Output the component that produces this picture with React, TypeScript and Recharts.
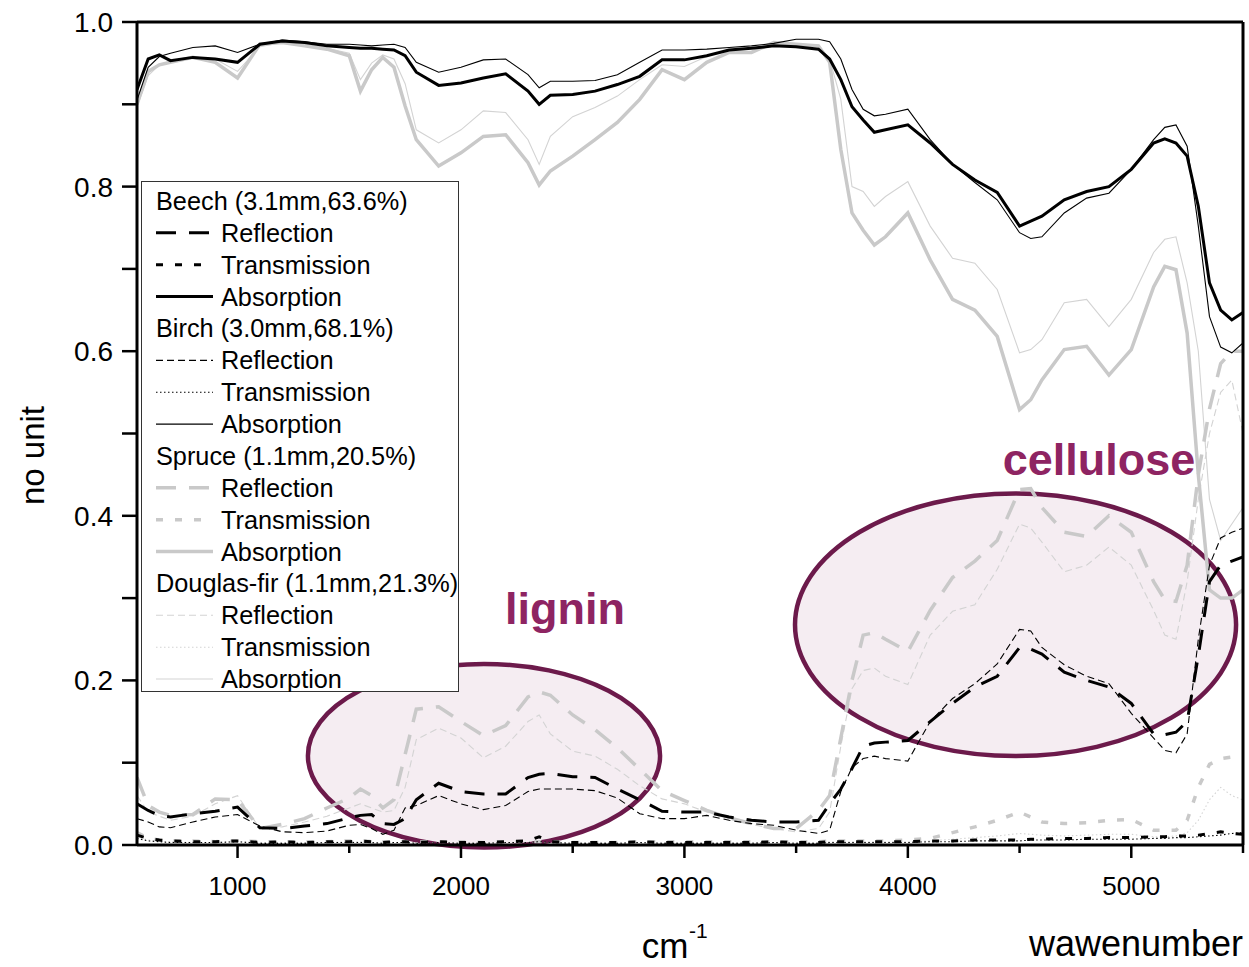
import React from 'react';
import {
  LineChart,
  Line,
  XAxis,
  YAxis,
  ReferenceArea,
  ReferenceDot,
  ReferenceLine,
  Legend,
} from 'recharts';

const FONT = "'Liberation Sans', Arial, Helvetica, sans-serif";

// wavenumber grid (cm^-1)
const wavenumbers = [
  550, 600, 650, 700, 800, 900, 1000, 1100,
  1200, 1300, 1400, 1500, 1550, 1600, 1650, 1700,
  1750, 1800, 1900, 2000, 2100, 2200, 2300, 2350,
  2400, 2500, 2600, 2700, 2800, 2900, 3000, 3100,
  3200, 3300, 3400, 3500, 3600, 3650, 3700, 3750,
  3800, 3850, 3900, 4000, 4100, 4200, 4300, 4400,
  4500, 4550, 4600, 4700, 4800, 4900, 5000, 5100,
  5150, 5200, 5250, 5300, 5350, 5400, 5450, 5500,
];

const beechAbsorption = [
  0.918, 0.955, 0.96, 0.953, 0.957, 0.955, 0.951, 0.973,
  0.977, 0.975, 0.971, 0.969, 0.968, 0.968, 0.967, 0.966,
  0.959, 0.939, 0.923, 0.926, 0.932, 0.937, 0.916, 0.9,
  0.911, 0.912, 0.916, 0.924, 0.934, 0.954, 0.954, 0.959,
  0.966, 0.968, 0.971, 0.97, 0.967, 0.955, 0.93, 0.897,
  0.881, 0.866, 0.869, 0.875, 0.853, 0.827, 0.808, 0.793,
  0.752, 0.758, 0.764, 0.784, 0.794, 0.8, 0.821, 0.853,
  0.858, 0.853, 0.837, 0.776, 0.683, 0.65, 0.638, 0.647,
];
const birchAbsorption = [
  0.905, 0.945, 0.958, 0.962, 0.969, 0.971, 0.963, 0.973,
  0.978, 0.976, 0.973, 0.973, 0.972, 0.971, 0.972, 0.973,
  0.969, 0.951, 0.939, 0.945, 0.954, 0.955, 0.936, 0.92,
  0.928, 0.928, 0.929, 0.936, 0.951, 0.966, 0.966, 0.967,
  0.969, 0.971, 0.974, 0.979, 0.979, 0.976, 0.955, 0.918,
  0.894, 0.886, 0.888, 0.894, 0.857, 0.827, 0.805, 0.784,
  0.744, 0.737, 0.739, 0.768, 0.786, 0.792, 0.821, 0.857,
  0.872, 0.875, 0.849, 0.752, 0.642, 0.605, 0.598, 0.61,
];
const spruceAbsorption = [
  0.9, 0.94, 0.948, 0.951, 0.957, 0.951, 0.932, 0.973,
  0.975, 0.971, 0.967, 0.959, 0.916, 0.942, 0.957, 0.945,
  0.898, 0.857, 0.825, 0.841, 0.861, 0.863, 0.829, 0.802,
  0.819, 0.837, 0.857, 0.878, 0.906, 0.942, 0.93, 0.951,
  0.963, 0.963, 0.975, 0.973, 0.971, 0.951, 0.845, 0.768,
  0.747, 0.729, 0.739, 0.768, 0.711, 0.663, 0.65, 0.618,
  0.529, 0.541, 0.565, 0.602, 0.606, 0.571, 0.602, 0.678,
  0.703, 0.699, 0.622, 0.45, 0.31, 0.3, 0.3, 0.31,
];
const douglasAbsorption = [
  0.897, 0.935, 0.948, 0.952, 0.957, 0.955, 0.94, 0.97,
  0.975, 0.973, 0.968, 0.962, 0.93, 0.95, 0.96, 0.955,
  0.925, 0.869, 0.853, 0.869, 0.892, 0.89, 0.857, 0.827,
  0.861, 0.885, 0.896, 0.91, 0.93, 0.948, 0.946, 0.958,
  0.966, 0.968, 0.973, 0.973, 0.972, 0.955, 0.906, 0.8,
  0.794, 0.776, 0.788, 0.806, 0.752, 0.713, 0.707, 0.675,
  0.598, 0.602, 0.614, 0.659, 0.663, 0.63, 0.663, 0.72,
  0.736, 0.739, 0.683, 0.6, 0.42, 0.37, 0.39, 0.41,
];

const beechReflection = [
  0.05, 0.042, 0.036, 0.034, 0.038, 0.041, 0.046, 0.021,
  0.02, 0.023, 0.026, 0.033, 0.036, 0.037, 0.026, 0.025,
  0.032, 0.055, 0.075, 0.065, 0.062, 0.062, 0.082, 0.086,
  0.087, 0.083, 0.082, 0.068, 0.055, 0.041, 0.04, 0.04,
  0.034, 0.03, 0.028, 0.028, 0.03, 0.05, 0.068, 0.093,
  0.12, 0.124, 0.125, 0.127, 0.15, 0.172, 0.192, 0.205,
  0.24, 0.238, 0.232, 0.21, 0.2, 0.192, 0.172, 0.135,
  0.134, 0.137, 0.15, 0.23, 0.32, 0.34, 0.345, 0.35,
];
const birchReflection = [
  0.032, 0.028, 0.022, 0.021, 0.028, 0.034, 0.037, 0.023,
  0.016, 0.015, 0.017, 0.024, 0.025, 0.02, 0.013, 0.018,
  0.045, 0.048, 0.06, 0.05, 0.043, 0.048, 0.065, 0.068,
  0.068, 0.068, 0.066, 0.057, 0.038, 0.032, 0.032, 0.036,
  0.03, 0.026, 0.024, 0.018, 0.014, 0.018, 0.065, 0.094,
  0.105, 0.108, 0.105, 0.102, 0.15, 0.178, 0.196, 0.22,
  0.262, 0.26, 0.24, 0.219, 0.205, 0.196, 0.16, 0.13,
  0.115, 0.112, 0.135, 0.25, 0.34, 0.373, 0.38, 0.385,
];
const spruceReflection = [
  0.082, 0.048, 0.04, 0.036, 0.037, 0.056, 0.055, 0.02,
  0.025, 0.032, 0.045, 0.057, 0.068, 0.06, 0.045, 0.055,
  0.11, 0.165, 0.168, 0.15, 0.133, 0.145, 0.18, 0.186,
  0.182, 0.158, 0.14, 0.118, 0.092, 0.066, 0.054, 0.042,
  0.033, 0.026, 0.02, 0.02, 0.042, 0.06, 0.13, 0.2,
  0.255, 0.258, 0.25, 0.235, 0.285, 0.325, 0.345, 0.37,
  0.432, 0.433, 0.41, 0.38, 0.375, 0.4, 0.38, 0.32,
  0.298, 0.296, 0.34, 0.45, 0.53, 0.585, 0.6, 0.6,
];
const douglasReflection = [
  0.06, 0.04, 0.035, 0.03, 0.035, 0.05, 0.06, 0.02,
  0.022, 0.028, 0.035, 0.045, 0.05, 0.045, 0.04, 0.042,
  0.07, 0.128, 0.142, 0.13, 0.106, 0.12, 0.15, 0.158,
  0.135, 0.114, 0.108, 0.092, 0.072, 0.056, 0.05, 0.04,
  0.032, 0.025, 0.02, 0.016, 0.02, 0.04, 0.12, 0.19,
  0.212, 0.215, 0.205, 0.195, 0.255, 0.284, 0.292, 0.335,
  0.39, 0.385, 0.368, 0.332, 0.34, 0.362, 0.34, 0.285,
  0.255, 0.25, 0.32, 0.42, 0.5, 0.55, 0.565, 0.5,
];

const beechTransmission = [
  0.012, 0.008, 0.006, 0.005, 0.004, 0.004, 0.005, 0.003,
  0.004, 0.003, 0.004, 0.004, 0.005, 0.004, 0.003, 0.004,
  0.004, 0.003, 0.004, 0.003, 0.003, 0.004, 0.005, 0.01,
  0.004, 0.003, 0.003, 0.003, 0.004, 0.003, 0.003, 0.003,
  0.003, 0.003, 0.004, 0.003, 0.003, 0.004, 0.004, 0.004,
  0.004, 0.004, 0.004, 0.004, 0.005, 0.005, 0.006, 0.006,
  0.006, 0.007, 0.007, 0.008, 0.008, 0.009, 0.009, 0.01,
  0.01, 0.011, 0.011, 0.012, 0.014, 0.016, 0.014, 0.013,
];
const birchTransmission = [
  0.008, 0.005, 0.004, 0.003, 0.003, 0.003, 0.004, 0.002,
  0.002, 0.002, 0.003, 0.003, 0.003, 0.003, 0.002, 0.003,
  0.003, 0.002, 0.003, 0.002, 0.002, 0.003, 0.003, 0.004,
  0.003, 0.002, 0.002, 0.002, 0.003, 0.002, 0.002, 0.002,
  0.002, 0.002, 0.003, 0.002, 0.002, 0.003, 0.003, 0.003,
  0.003, 0.003, 0.003, 0.003, 0.004, 0.004, 0.005, 0.005,
  0.005, 0.006, 0.006, 0.006, 0.007, 0.007, 0.007, 0.008,
  0.008, 0.009, 0.009, 0.01, 0.011, 0.012, 0.014, 0.015,
];
const spruceTransmission = [
  0.015, 0.008, 0.006, 0.005, 0.005, 0.004, 0.005, 0.004,
  0.004, 0.004, 0.004, 0.005, 0.005, 0.004, 0.004, 0.004,
  0.004, 0.004, 0.004, 0.004, 0.003, 0.004, 0.004, 0.004,
  0.004, 0.003, 0.003, 0.003, 0.004, 0.004, 0.004, 0.004,
  0.004, 0.004, 0.004, 0.004, 0.004, 0.005, 0.005, 0.005,
  0.005, 0.005, 0.005, 0.006, 0.008, 0.015, 0.022, 0.03,
  0.04, 0.034, 0.028, 0.026, 0.027, 0.03, 0.031, 0.018,
  0.018, 0.018, 0.03, 0.07, 0.098, 0.105, 0.107, 0.107,
];
const douglasTransmission = [
  0.01, 0.006, 0.004, 0.004, 0.003, 0.003, 0.004, 0.003,
  0.003, 0.003, 0.003, 0.004, 0.004, 0.003, 0.003, 0.003,
  0.003, 0.003, 0.003, 0.003, 0.003, 0.003, 0.003, 0.003,
  0.003, 0.003, 0.003, 0.003, 0.003, 0.003, 0.003, 0.003,
  0.003, 0.003, 0.003, 0.003, 0.003, 0.004, 0.004, 0.004,
  0.004, 0.004, 0.004, 0.004, 0.005, 0.007, 0.009, 0.011,
  0.014, 0.013, 0.012, 0.011, 0.012, 0.013, 0.013, 0.01,
  0.01, 0.011, 0.015, 0.03, 0.055, 0.07, 0.06, 0.055,
];

const xTicks = [1000, 1500, 2000, 2500, 3000, 3500, 4000, 4500, 5000, 5500];
const yTicks = [0, 0.1, 0.2, 0.3, 0.4, 0.5, 0.6, 0.7, 0.8, 0.9, 1.0];

const woodNames = [
  'Beech (3.1mm,63.6%)',
  'Birch (3.0mm,68.1%)',
  'Spruce (1.1mm,20.5%)',
  'Douglas-fir (1.1mm,21.3%)',
];
const quantityNames = ['Reflection', 'Transmission', 'Absorption'];

const annotationRegions = [
  { name: 'lignin', x1: 1315, x2: 2891, y1: -0.003, y2: 0.22, labelX: 2466, labelY: 0.268 },
  { name: 'cellulose', x1: 3495, x2: 5469, y1: 0.108, y2: 0.427, labelX: 4856, labelY: 0.45 },
];

const data = wavenumbers.map((w, i) => ({
  w,
  bR: beechReflection[i],
  bT: beechTransmission[i],
  bA: beechAbsorption[i],
  hR: birchReflection[i],
  hT: birchTransmission[i],
  hA: birchAbsorption[i],
  sR: spruceReflection[i],
  sT: spruceTransmission[i],
  sA: spruceAbsorption[i],
  dR: douglasReflection[i],
  dT: douglasTransmission[i],
  dA: douglasAbsorption[i],
}));

// styles per wood
const woodStyles = [
  { prefix: 'b', color: '#000000', width: 3, dashR: '20 13', dashT: '7 12' },
  { prefix: 'h', color: '#000000', width: 1.1, dashR: '7 4', dashT: '1.5 2.5' },
  { prefix: 's', color: '#c9c9c9', width: 3.5, dashR: '20 13', dashT: '7 12' },
  { prefix: 'd', color: '#d3d3d3', width: 1.1, dashR: '7 4', dashT: '1.5 2.5' },
];

const PURPLE_STROKE = '#6c1a4b';
const PURPLE_TEXT = '#8e2462';

const EllipseShape = (props: any) => {
  const { x, y, width, height } = props;
  if ([x, y, width, height].some((v) => typeof v !== 'number' || isNaN(v))) return null;
  return (
    <ellipse
      cx={x + width / 2}
      cy={y + height / 2}
      rx={Math.abs(width) / 2}
      ry={Math.abs(height) / 2}
      fill="#7a1f55"
      fillOpacity={0.08}
      stroke={PURPLE_STROKE}
      strokeWidth={4.5}
    />
  );
};

const XTick = (props: any) => {
  const { x, y, payload } = props;
  const major = payload.value % 1000 === 0;
  return (
    <g>
      <line x1={x} x2={x} y1={y} y2={y + (major ? 13 : 8)} stroke="#000" strokeWidth={2.5} />
      {major && (
        <text x={x} y={y + 50} textAnchor="middle" fontSize={26} fontFamily={FONT} fill="#000">
          {payload.value}
        </text>
      )}
    </g>
  );
};

const YTick = (props: any) => {
  const { x, y, payload } = props;
  const major = Math.round(payload.value * 10) % 2 === 0;
  return (
    <g>
      <line x1={x - 15} x2={x} y1={y} y2={y} stroke="#000" strokeWidth={2.5} />
      {major && (
        <text x={x - 24} y={y + 10} textAnchor="end" fontSize={28} fontFamily={FONT} fill="#000">
          {payload.value.toFixed(1)}
        </text>
      )}
    </g>
  );
};

const XTitle = (props: any) => {
  const vb = props.viewBox || { x: 137, y: 845, width: 1106, height: 122 };
  const cmX = vb.x + vb.width * 0.4775;
  return (
    <g fontFamily={FONT} fill="#000">
      <text x={cmX} y={vb.y + 113} textAnchor="middle" fontSize={35}>
        cm
      </text>
      <text x={cmX + 24} y={vb.y + 93} textAnchor="start" fontSize={21}>
        -1
      </text>
      <text x={vb.x + vb.width} y={vb.y + 111} textAnchor="end" fontSize={36}>
        wawenumber
      </text>
    </g>
  );
};

const YTitle = (props: any) => {
  const vb = props.viewBox || { x: 0, y: 22, width: 137, height: 823 };
  const cx = vb.x + 44;
  const cy = vb.y + vb.height / 2 + 22;
  return (
    <text
      x={cx}
      y={cy}
      transform={`rotate(-90 ${cx} ${cy})`}
      textAnchor="middle"
      fontSize={33}
      fontFamily={FONT}
      fill="#000"
    >
      no unit
    </text>
  );
};

const WoodLegend = () => {
  const rowH = 31.87;
  const rows: any[] = [];
  woodStyles.forEach((st, gi) => {
    rows.push({ kind: 'title', text: woodNames[gi] });
    quantityNames.forEach((q, qi) => {
      rows.push({
        kind: 'item',
        text: q,
        color: st.color,
        width: st.width,
        dash: qi === 0 ? st.dashR : qi === 1 ? st.dashT : undefined,
      });
    });
  });
  return (
    <svg width={318} height={511} style={{ display: 'block', fontFamily: FONT }}>
      <rect x={0.5} y={0.5} width={317} height={510} fill="#fff" stroke="#333" strokeWidth={1} />
      {rows.map((r, i) => {
        const cy = 20 + i * rowH;
        if (r.kind === 'title') {
          return (
            <text key={i} x={15} y={cy + 9} fontSize={25.3} fill="#000">
              {r.text}
            </text>
          );
        }
        return (
          <g key={i}>
            <line
              x1={15}
              x2={72}
              y1={cy}
              y2={cy}
              stroke={r.color}
              strokeWidth={r.width}
              strokeDasharray={r.dash}
            />
            <text x={80} y={cy + 9} fontSize={25.3} fill="#000">
              {r.text}
            </text>
          </g>
        );
      })}
    </svg>
  );
};

const drawOrder = ['d', 's', 'h', 'b'];

export default function App() {
  const lines: any[] = [];
  drawOrder.forEach((p) => {
    const st = woodStyles.find((s) => s.prefix === p)!;
    ['A', 'R', 'T'].forEach((q) => {
      lines.push(
        <Line
          key={p + q}
          dataKey={p + q}
          type="linear"
          stroke={st.color}
          strokeWidth={st.width}
          strokeDasharray={q === 'R' ? st.dashR : q === 'T' ? st.dashT : undefined}
          dot={false}
          activeDot={false}
          isAnimationActive={false}
          legendType="none"
        />
      );
    });
  });

  return (
    <div style={{ position: 'absolute', left: 0, top: 0, width: 1249, height: 967, background: '#fff' }}>
      <LineChart width={1249} height={967} data={data} margin={{ top: 22, right: 6, bottom: 0, left: 0 }}>
        <XAxis
          dataKey="w"
          type="number"
          domain={[550, 5500]}
          ticks={xTicks}
          interval={0}
          tick={<XTick />}
          tickLine={false}
          tickSize={0}
          tickMargin={0}
          axisLine={{ stroke: '#000', strokeWidth: 3 }}
          height={122}
          allowDataOverflow
          label={{ content: XTitle }}
        />
        <YAxis
          type="number"
          domain={[0, 1]}
          ticks={yTicks}
          interval={0}
          tick={<YTick />}
          tickLine={false}
          tickSize={0}
          tickMargin={0}
          axisLine={{ stroke: '#000', strokeWidth: 3 }}
          width={137}
          allowDataOverflow
          label={{ content: YTitle }}
        />
        {lines}
        {annotationRegions.map((r) => (
          <ReferenceArea
            key={r.name}
            x1={r.x1}
            x2={r.x2}
            y1={r.y1}
            y2={r.y2}
            ifOverflow="visible"
            shape={EllipseShape}
          />
        ))}
        <ReferenceLine y={1} stroke="#000" strokeWidth={3} />
        <ReferenceLine x={5500} stroke="#000" strokeWidth={3} />
        {annotationRegions.map((r) => (
          <ReferenceDot
            key={r.name + '-label'}
            x={r.labelX}
            y={r.labelY}
            r={0}
            ifOverflow="visible"
            shape={(p: any) => (
              <text
                x={p.cx}
                y={p.cy}
                textAnchor="middle"
                fontSize={45}
                fontWeight="bold"
                fontFamily={FONT}
                fill={PURPLE_TEXT}
              >
                {r.name}
              </text>
            )}
          />
        ))}
        <Legend
          layout="horizontal"
          align="center"
          verticalAlign="middle"
          content={<WoodLegend />}
          wrapperStyle={{ left: 141, top: 181, width: 318, height: 511 }}
        />
      </LineChart>
    </div>
  );
}
